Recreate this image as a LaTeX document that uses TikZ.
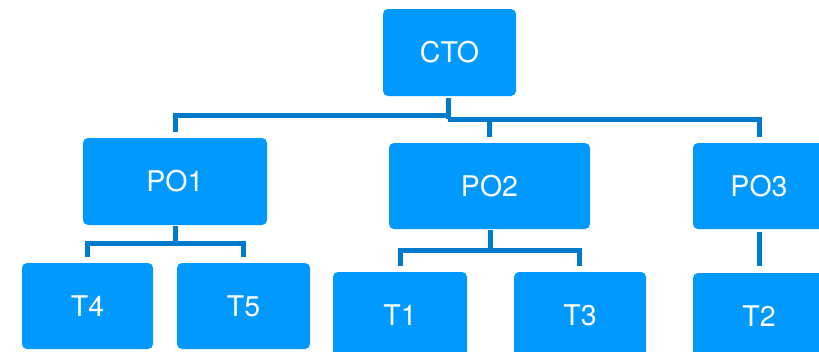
\documentclass[tikz,border=0pt]{standalone}
\usepackage{fontspec}
\setmainfont{TeX Gyre Heros}
\definecolor{boxblue}{RGB}{0,153,255}
\definecolor{linkblue}{RGB}{0,122,204}
\tikzset{
  role/.style={fill=boxblue, rounded corners=5pt, inner sep=0pt,
    text=white, font=\fontsize{28.5}{33}\selectfont},
  conn/.style={draw=linkblue, line width=5pt}
}
\begin{document}
\begin{tikzpicture}[x=1pt,y=-1pt]
  \useasboundingbox (0,0) rectangle (819,351);
  \clip (0,0) rectangle (819,351);
  % boxes of the org chart
  \node[role, minimum width=133pt, minimum height=87pt] (cto) at (449.5,52.5) {CTO};
  \node[role, minimum width=184pt, minimum height=87pt] (po1) at (175,181.5) {PO1};
  \node[role, minimum width=201pt, minimum height=86pt] (po2) at (489.5,186) {PO2};
  \node[role, minimum width=132pt, minimum height=86pt] (po3) at (759,186) {PO3};
  \node[role, minimum width=131pt, minimum height=86pt] (t4) at (87.5,306) {T4};
  \node[role, minimum width=133pt, minimum height=86pt] (t5) at (243.5,306) {T5};
  \node[role, minimum width=134pt, minimum height=86pt] (t1) at (400,315) {T1};
  \node[role, minimum width=132pt, minimum height=86pt] (t3) at (580,315) {T3};
  \node[role, minimum width=132pt, minimum height=86pt] (t2) at (759,316) {T2};
  % CTO to product owners
  \coordinate (jl) at (448,115);
  \coordinate (jr) at (448,119);
  \draw[conn, shorten <=2pt] (cto.south -| jr) -- (jr);
  \draw[conn, shorten >=6pt] (jl) -| (po1.north);
  \draw[conn, shorten >=6pt] (jr) -| (po3.north);
  \draw[conn, shorten <=6pt] (po2.north) -- (po2.north |- jr);
  % PO1 to its teams
  \coordinate (j1) at (175,243);
  \draw[conn, shorten <=1pt] (po1.south) -- (j1);
  \draw[conn, shorten >=6pt] (j1) -| (t4.north -| 87,0);
  \draw[conn, shorten >=6pt] (j1) -| (t5.north -| 243,0);
  % PO2 to its teams
  \coordinate (j2) at (490,250);
  \draw[conn, shorten <=1pt] (po2.south -| j2) -- (j2);
  \draw[conn, shorten >=6pt] (j2) -| (t1.north -| 400,0);
  \draw[conn, shorten >=6pt] (j2) -| (t3.north -| 579,0);
  % PO3 to its team
  \draw[conn, shorten <=3pt, shorten >=7pt] (po3.south) -- (t2.north);
\end{tikzpicture}
\end{document}
